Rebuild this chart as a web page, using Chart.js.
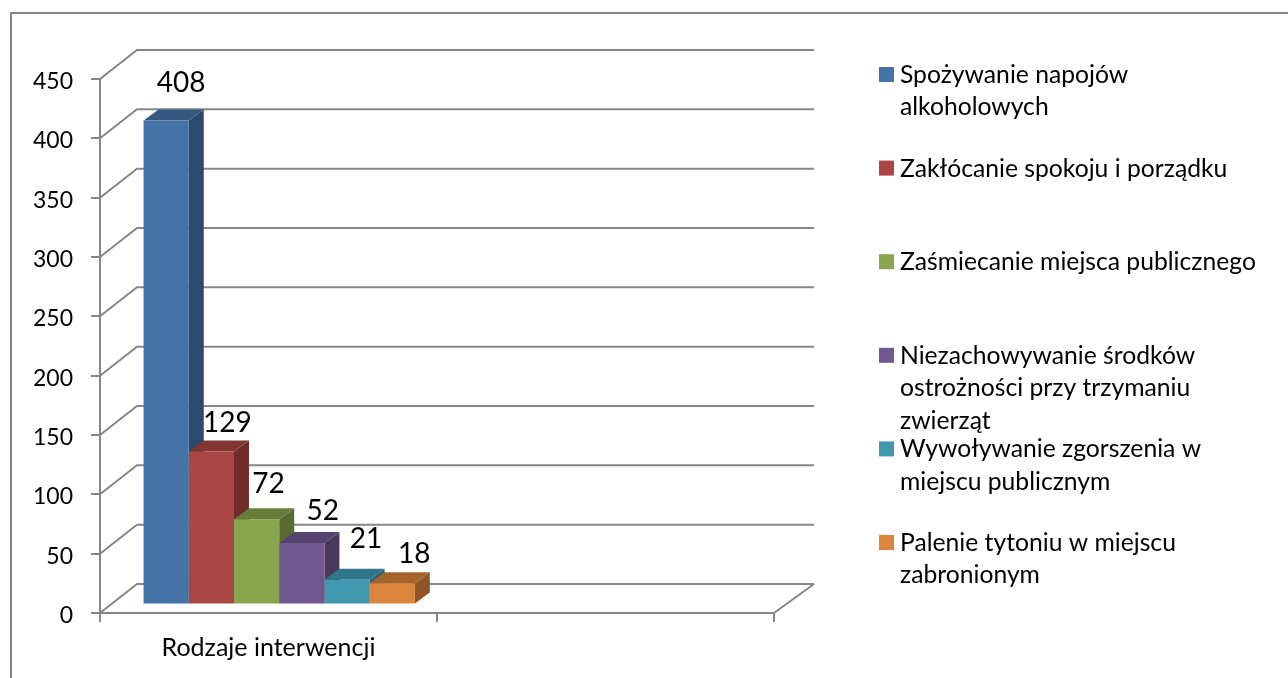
<!DOCTYPE html>
<html>
<head>
<meta charset="utf-8">
<title>Rodzaje interwencji</title>
<script src="https://cdn.jsdelivr.net/npm/chart.js@4"></script>
<style>
    body { margin: 0; background: #fff; }
    canvas { display: block; }
</style>
</head>
<body>
<canvas id="interwencjeChart" width="1288" height="678"></canvas>
<script>
const categories = ['Rodzaje interwencji', ''];
const seriesNames = [
    'Spożywanie napojów alkoholowych',
    'Zakłócanie spokoju i porządku',
    'Zaśmiecanie miejsca publicznego',
    'Niezachowywanie środków ostrożności przy trzymaniu zwierząt',
    'Wywoływanie zgorszenia w miejscu publicznym',
    'Palenie tytoniu w miejscu zabronionym'
];
const seriesValues = [408, 129, 72, 52, 21, 18];
const yTicks = [0, 50, 100, 150, 200, 250, 300, 350, 400, 450];

// styles and layout, kept apart from the data
const frontColors = ['#4573A7', '#AA4643', '#89A54E', '#71588F', '#4198AF', '#DB843D'];
const sideColors = ['#2C4A6E', '#702C2A', '#596B31', '#4A395E', '#2A6372', '#8F5627'];
const topColors = ['#355883', '#823431', '#687D3A', '#574370', '#30758A', '#A7642D'];
const legendLines = [
    ['Spożywanie napojów', 'alkoholowych'],
    ['Zakłócanie spokoju i porządku'],
    ['Zaśmiecanie miejsca publicznego'],
    ['Niezachowywanie środków', 'ostrożności przy trzymaniu', 'zwierząt'],
    ['Wywoływanie zgorszenia w', 'miejscu publicznym'],
    ['Palenie tytoniu w miejscu', 'zabronionym']
];
const labelNudges = [[15, -37], [16, -29], [12, -35], [21, -32], [19, -41], [22, -29]];
const GREY = '#868686';
const FONT = 'Lato, "Open Sans", sans-serif';
const wall = {dx: 40, dy: -29};
const barDepth = {dx: 15, dy: -11};
const barShift = {x: 10.7, y: -8.4};

function poly(ctx, points, color) {
    ctx.fillStyle = color;
    ctx.beginPath();
    points.forEach((p, i) => i ? ctx.lineTo(p[0], p[1]) : ctx.moveTo(p[0], p[1]));
    ctx.closePath();
    ctx.fill();
}

const frame3d = {
    id: 'frame3d',
    beforeDatasetsDraw(chart) {
        const ctx = chart.ctx;
        const x = chart.scales.x;
        const y = chart.scales.y;

        ctx.save();
        ctx.strokeStyle = GREY;
        ctx.lineWidth = 2;
        // outer frame, only top and left fall inside the picture
        ctx.beginPath();
        ctx.moveTo(11, 678);
        ctx.lineTo(11, 13);
        ctx.lineTo(1288, 13);
        ctx.stroke();

        yTicks.forEach(t => {
            const py = y.getPixelForValue(t);
            ctx.beginPath();
            ctx.moveTo(x.left, py);
            ctx.lineTo(x.left + 37, py + wall.dy);
            ctx.lineTo(x.right + wall.dx, py + wall.dy);
            ctx.stroke();
        });
        const floorY = y.getPixelForValue(0);
        ctx.beginPath();
        ctx.moveTo(x.right, floorY);
        ctx.lineTo(x.right + wall.dx, floorY + wall.dy);
        ctx.stroke();

        // side and top faces first, the library paints the fronts over them
        seriesValues.forEach((v, i) => {
            const bar = chart.getDatasetMeta(i).data[0];
            const l = bar.x - bar.width / 2 + barShift.x;
            const r = bar.x + bar.width / 2 + barShift.x;
            const t = bar.y + barShift.y;
            const b = bar.base + barShift.y;
            poly(ctx, [[r, t], [r + barDepth.dx, t + barDepth.dy], [r + barDepth.dx, b + barDepth.dy], [r, b]], sideColors[i]);
            poly(ctx, [[l, t], [l + barDepth.dx, t + barDepth.dy], [r + barDepth.dx, t + barDepth.dy], [r, t]], topColors[i]);
        });
        ctx.restore();

        ctx.save();
        ctx.translate(barShift.x, barShift.y);
    },
    afterDatasetsDraw(chart) {
        const ctx = chart.ctx;
        ctx.restore();

        ctx.save();
        ctx.fillStyle = '#000';
        ctx.textBaseline = 'middle';
        ctx.textAlign = 'center';
        ctx.font = '28px ' + FONT;
        seriesValues.forEach((v, i) => {
            const bar = chart.getDatasetMeta(i).data[0];
            const top = bar.y + barShift.y;
            ctx.fillText(String(v), bar.x + barShift.x + labelNudges[i][0], top + labelNudges[i][1]);
        });

        // legend wraps over several lines, which the built-in one cannot do
        ctx.textAlign = 'left';
        ctx.font = '24.7px ' + FONT;
        legendLines.forEach((lines, i) => {
            const rowY = 74.5 + i * 93.6;
            ctx.fillStyle = frontColors[i];
            ctx.fillRect(879, rowY - 7.5, 15, 15);
            ctx.fillStyle = '#000';
            lines.forEach((line, n) => ctx.fillText(line, 900, rowY + 0.5 + n * 32.5));
        });
        ctx.restore();
    }
};

new Chart(document.getElementById('interwencjeChart').getContext('2d'), {
    type: 'bar',
    plugins: [frame3d],
    data: {
        labels: categories,
        datasets: seriesNames.map((name, i) => ({
            label: name,
            data: [seriesValues[i], null],
            backgroundColor: frontColors[i],
            borderWidth: 0,
            clip: false,
            barPercentage: 1,
            categoryPercentage: 0.805
        }))
    },
    options: {
        responsive: false,
        animation: false,
        layout: {padding: {top: 79, right: 514, left: 0, bottom: 0}},
        plugins: {legend: {display: false}, tooltip: {enabled: false}},
        scales: {
            x: {
                afterFit: scale => { scale.height = 65; },
                border: {color: GREY, width: 2},
                grid: {drawOnChartArea: false, color: GREY, lineWidth: 2, tickLength: 9},
                ticks: {color: '#000', font: {family: FONT, size: 25}, padding: 11, maxRotation: 0, autoSkip: false}
            },
            y: {
                min: 0,
                max: 450,
                afterFit: scale => { scale.width = 100; },
                border: {color: GREY, width: 2},
                grid: {drawOnChartArea: false, color: GREY, lineWidth: 2, tickLength: 9},
                ticks: {stepSize: 50, color: '#000', font: {family: FONT, size: 23}, padding: 18, labelOffset: 2.5}
            }
        }
    }
});
</script>
</body>
</html>
